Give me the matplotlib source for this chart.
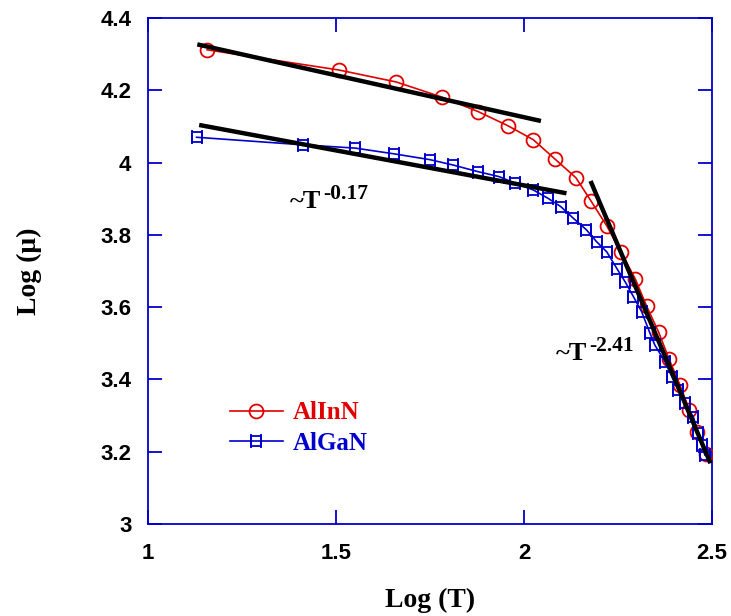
import matplotlib
matplotlib.use("Agg")
import matplotlib.pyplot as plt
from matplotlib.path import Path

# ---- data ----
alinn_x = [1.157, 1.508, 1.660, 1.782, 1.878, 1.957, 2.025, 2.082, 2.138, 2.178,
           2.220, 2.258, 2.296, 2.326, 2.358, 2.386, 2.415, 2.440, 2.459, 2.484]
alinn_y = [4.312, 4.256, 4.223, 4.181, 4.141, 4.102, 4.063, 4.010, 3.958, 3.894,
           3.825, 3.752, 3.678, 3.603, 3.531, 3.456, 3.384, 3.315, 3.255, 3.194]

algan_x = [1.129, 1.413, 1.551, 1.655, 1.750, 1.812, 1.877, 1.934, 1.976, 2.025,
           2.064, 2.098, 2.131, 2.166, 2.193, 2.220, 2.248, 2.269, 2.291, 2.313,
           2.335, 2.348, 2.375, 2.393, 2.410, 2.428, 2.450, 2.464, 2.473, 2.481]
algan_y = [4.070, 4.049, 4.040, 4.024, 4.008, 3.993, 3.975, 3.961, 3.943, 3.924,
           3.901, 3.878, 3.846, 3.814, 3.781, 3.753, 3.705, 3.670, 3.629, 3.587,
           3.528, 3.495, 3.449, 3.408, 3.371, 3.334, 3.297, 3.251, 3.219, 3.191]

fit1_x = [1.131, 2.045]
fit1_y = [4.327, 4.115]
fit2_x = [1.136, 2.113]
fit2_y = [4.104, 3.915]
fit3_x = [2.177, 2.496]
fit3_y = [3.949, 3.168]

xticks = [1, 1.5, 2, 2.5]
xtick_labels = ["1", "1.5", "2", "2.5"]
yticks = [3, 3.2, 3.4, 3.6, 3.8, 4, 4.2, 4.4]
ytick_labels = ["3", "3.2", "3.4", "3.6", "3.8", "4", "4.2", "4.4"]

series_labels = ["AlInN", "AlGaN"]
ann_base = "~T"
ann1_sup = "-0.17"
ann2_sup = "-2.41"

# ---- style ----
blue = "#0000CC"
red = "#E00000"
serif = "Liberation Serif"
sans = "Liberation Sans"

# square with extended vertical sides
verts = [(-1, -1), (1, -1), (1, 1), (-1, 1), (-1, -1),
         (-1, -1.45), (-1, 1.45), (1, -1.45), (1, 1.45)]
codes = [Path.MOVETO, Path.LINETO, Path.LINETO, Path.LINETO, Path.CLOSEPOLY,
         Path.MOVETO, Path.LINETO, Path.MOVETO, Path.LINETO]
sq_marker = Path(verts, codes)

fig = plt.figure(figsize=(7.31, 6.16), dpi=100)
ax = fig.add_axes([0.2025, 0.1494, 0.7715, 0.8214])

ax.plot(alinn_x, alinn_y, color=red, lw=1.2, marker="o", ms=10,
        mfc="none", mec=red, mew=1.3, label=series_labels[0], zorder=3)
ax.plot(algan_x, algan_y, color=blue, lw=1.2, marker=sq_marker, ms=10,
        mfc="none", mec=blue, mew=1.3, label=series_labels[1], zorder=3)

for fx, fy in [(fit1_x, fit1_y), (fit2_x, fit2_y), (fit3_x, fit3_y)]:
    ax.plot(fx, fy, color="black", lw=3.2, solid_capstyle="butt", zorder=4)

for (tx, ty), sup in [((1.42, 3.893), ann1_sup), ((2.125, 3.472), ann2_sup)]:
    t = ax.text(tx, ty, ann_base, fontsize=19, fontweight="bold", family=serif,
                ha="center", va="center")
    ax.annotate(sup, xy=(1.0, 0.80), xycoords=t, xytext=(1.5, 0),
                textcoords="offset points", fontsize=15.5, fontweight="bold",
                family=serif, ha="left", va="center")

ax.set_xlim(1, 2.5)
ax.set_ylim(3, 4.4)
ax.set_xticks(xticks)
ax.set_xticklabels(xtick_labels)
ax.set_yticks(yticks)
ax.set_yticklabels(ytick_labels)

for sp in ax.spines.values():
    sp.set_color(blue)
    sp.set_linewidth(1.3)
ax.tick_params(direction="in", length=10, width=1.3, color=blue,
               top=True, right=True, labelsize=16)
for lab in ax.get_xticklabels() + ax.get_yticklabels():
    lab.set_fontweight("bold")
    lab.set_family(sans)
ax.tick_params(axis="x", pad=14)
ax.tick_params(axis="y", pad=12)

ax.set_xlabel("Log (T)", fontsize=20, fontweight="bold", family=serif, labelpad=17)
ax.set_ylabel("Log (μ)", fontsize=20, fontweight="bold", family=serif, labelpad=42)

leg = ax.legend(loc="upper left", bbox_to_anchor=(0.128, 0.262), frameon=False,
                handlelength=2.1, handletextpad=0.4, labelspacing=0.3,
                prop={"family": serif, "weight": "bold", "size": 18},
                labelcolor="linecolor", borderaxespad=0)

fig.savefig("out.png", dpi=100)
